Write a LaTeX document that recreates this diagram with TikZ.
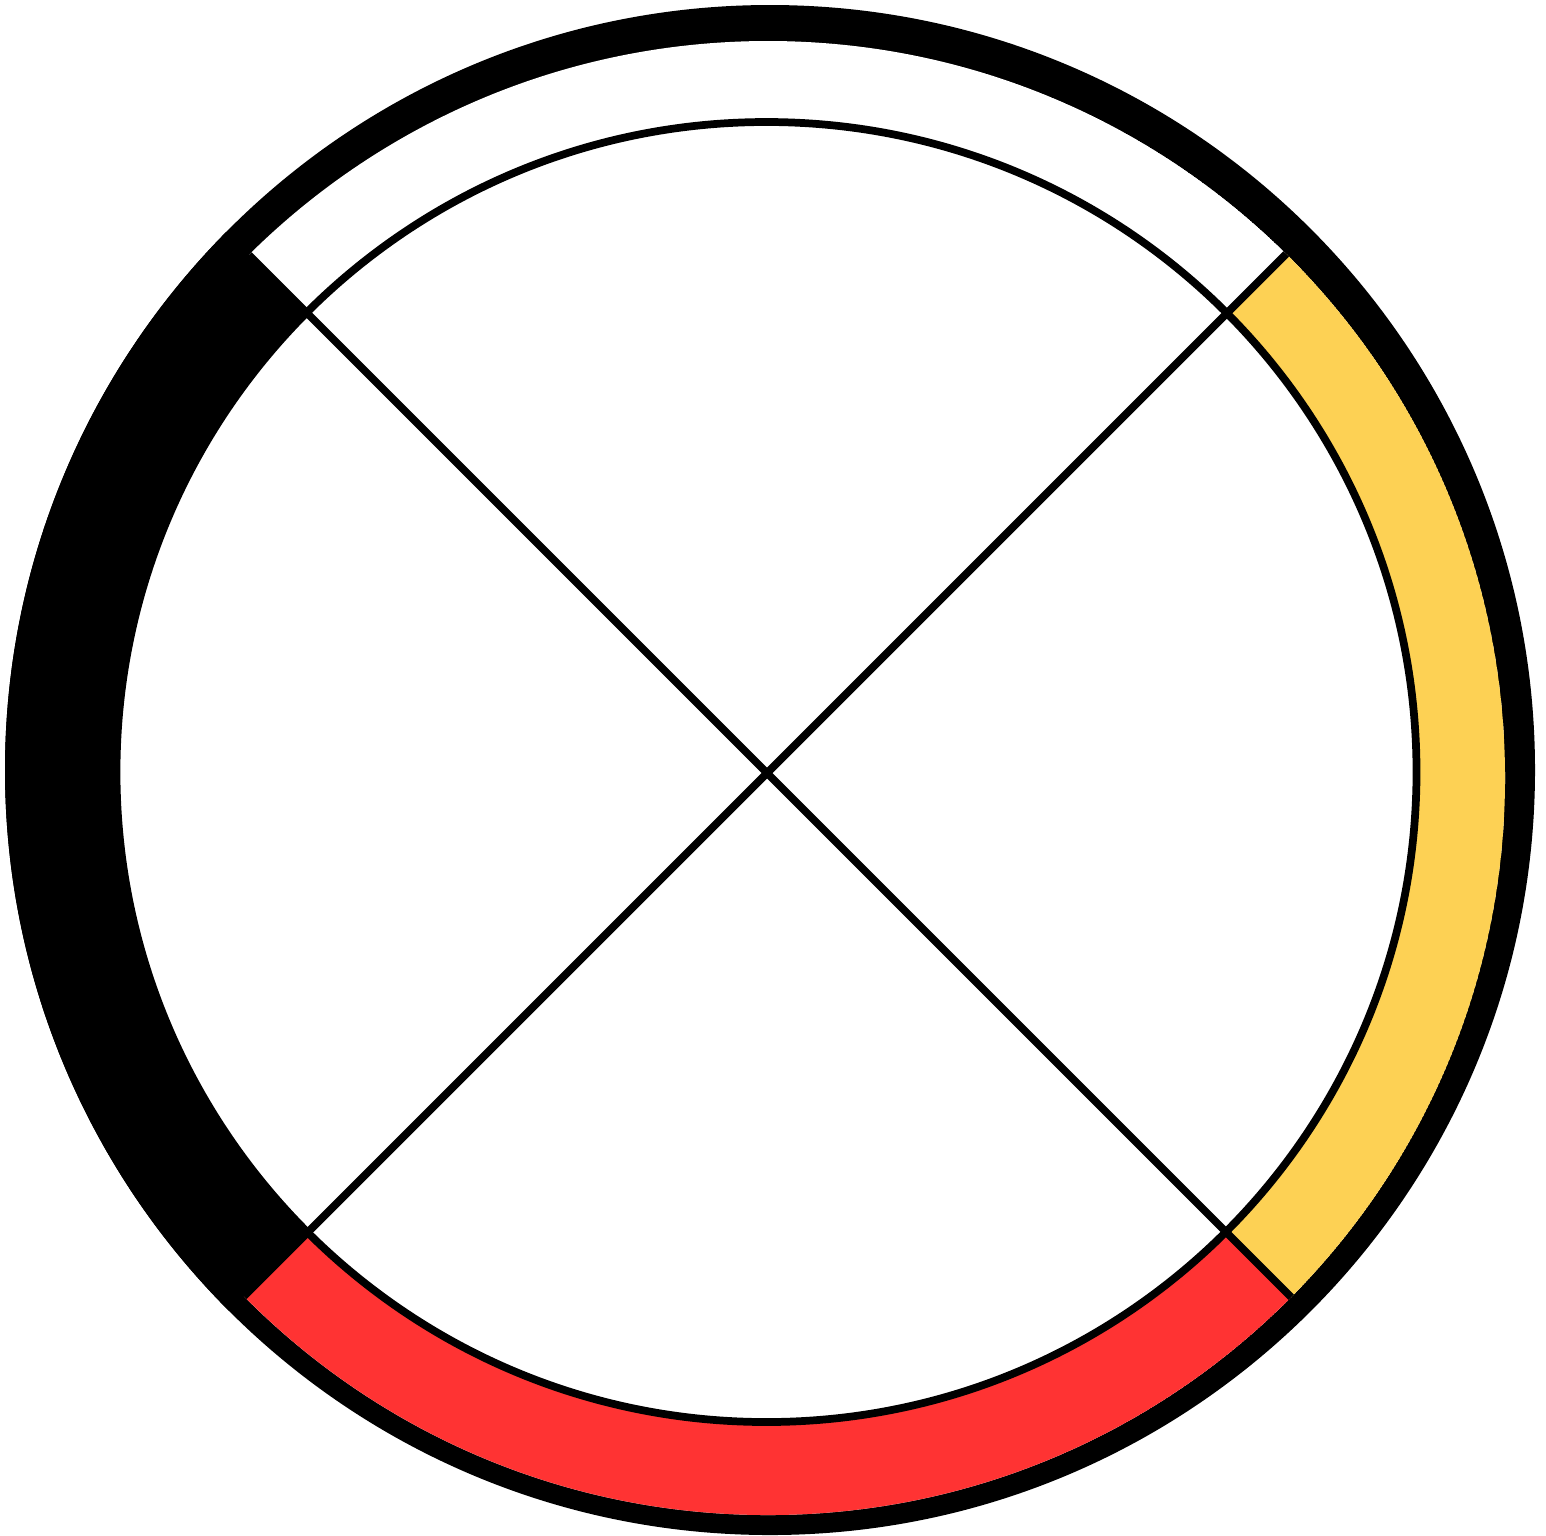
\documentclass[tikz,border=0pt]{standalone}
\usetikzlibrary{calc}
\definecolor{sun}{HTML}{FDD154}
\definecolor{fire}{HTML}{FF3333}
\tikzset{
 rim/.style={fill=black},
 hoop/.style={draw=black,line width=2.2pt,fill=white},
 spoke/.style={draw=black,line width=2.2pt},
}
\begin{document}
\begin{tikzpicture}[x=0.01cm,y=-0.01cm]
\useasboundingbox (0,0) rectangle (1546,1535);
\coordinate (c) at (767,773);
\coordinate (o) at (770,770);
\coordinate (b) at (768,778);
\coordinate (ul) at ($(c)+(-1200,-1200)$);
\coordinate (lr) at ($(c)+(1200,1200)$);
\coordinate (ur) at ($(c)+(1200,-1200)$);
\coordinate (ll) at ($(c)+(-1200,1200)$);

% outer black rim
\fill[rim] (o) circle[radius=765];

% coloured band
\begin{scope}
  \clip (b) circle[radius=737];
  \fill[white] (b) circle[radius=737];
  \fill[sun] (c) -- (ur) -- (lr) -- cycle;
  \fill[fire] (c) -- (lr) -- (ll) -- cycle;
\end{scope}
\begin{scope}
  \clip (o) circle[radius=765];
  \fill[rim] (c) -- (ll) -- (ul) -- cycle;
\end{scope}
\begin{scope}
  \clip (b) circle[radius=737];
  \draw[hoop] (766.5,772) circle[radius=650];
  \draw[spoke] (ul) -- (lr);
  \draw[spoke] (ur) -- (ll);
\end{scope}
\end{tikzpicture}
\end{document}
